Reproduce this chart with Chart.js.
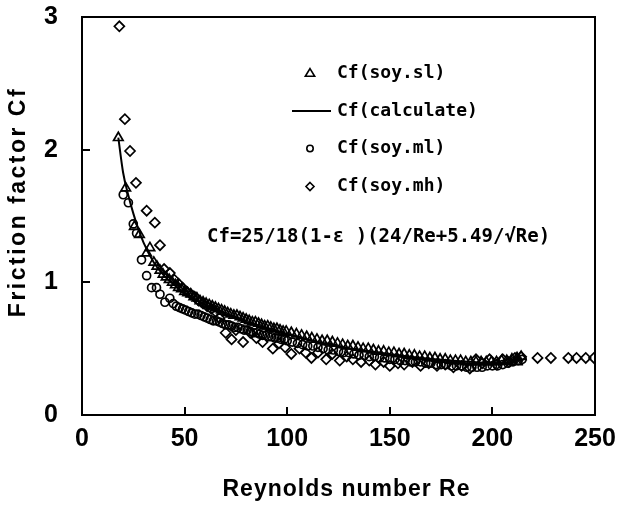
<!DOCTYPE html>
<html><head><meta charset="utf-8">
<script src="https://cdn.jsdelivr.net/npm/chart.js@4/dist/chart.umd.min.js"></script>
<style>html,body{margin:0;padding:0;background:#fff}#wrap{width:617px;height:507px}</style>
</head><body><div id="wrap"><canvas id="c" width="617" height="507"></canvas></div>
<script>
const seriesLabels = ["Cf(soy.sl)", "Cf(calculate)", "Cf(soy.ml)", "Cf(soy.mh)"];
const xTitle = "Reynolds number Re";
const yTitle = "Friction factor Cf";
const formulaText = "Cf=25/18(1-ε )(24/Re+5.49/√Re)";
const xTicks = [0, 50, 100, 150, 200, 250];
const yTicks = [0, 1, 2, 3];

const slRe = [17.7,21.3,25.5,28,31.5,33.1,35,36.5,38,39.5,41,42.5,44,45.5,47,48.5,50,51.5,53,54.5,56,57.5,59,60.5,62,63.5,65,66.5,68,69.5,71,72.5,74,75.5,77,78.5,80,81.5,83,84.5,86,87.5,89,90.5,92,93.5,95,96.5,98,99.5,102,104.5,107,109.5,112,114.5,117,119.5,122,124.5,127,129.5,132,134.5,137,139.5,142,144.5,147,149.5,152,154.5,157,159.5,162,164.5,167,169.5,172,174.5,177,179.5,182,184.5,187,189.5,192,194.5,197,199.5,202,204.5,207,209.5,212,214];
const slCf = [2.09,1.71,1.42,1.36,1.22,1.26,1.15,1.12,1.09,1.06,1.04,1.02,1.00,0.98,0.96,0.95,0.93,0.92,0.91,0.89,0.88,0.86,0.85,0.84,0.83,0.82,0.81,0.80,0.79,0.78,0.77,0.76,0.75,0.75,0.74,0.73,0.72,0.71,0.70,0.70,0.69,0.68,0.67,0.67,0.66,0.65,0.65,0.64,0.63,0.63,0.62,0.61,0.60,0.59,0.58,0.57,0.56,0.56,0.55,0.54,0.53,0.52,0.52,0.51,0.50,0.50,0.49,0.48,0.48,0.47,0.47,0.46,0.46,0.45,0.45,0.44,0.44,0.43,0.43,0.42,0.42,0.41,0.41,0.41,0.40,0.40,0.40,0.40,0.40,0.40,0.40,0.41,0.41,0.42,0.43,0.44];

const mlRe = [20.1,22.6,25,26.6,29,31.5,33.9,36.3,38,40.4,42.8,44.5,46,47.5,49,50.5,52,53.5,55,56.5,58,59.5,61,62.5,64,65.5,67,68.5,70,71.5,73,74.5,76,77.5,79,80.5,82,83.5,85,86.5,88,89.5,91,92.5,94,95.5,97,98.5,100,102.5,105,107.5,110,112.5,115,117.5,120,122.5,125,127.5,130,132.5,135,137.5,140,142.5,145,147.5,150,152.5,155,157.5,160,162.5,165,167.5,170,172.5,175,177.5,180,182.5,185,187.5,190,192.5,195,197.5,200,202.5,205,207.5,210,212.5,214.5];
const mlCf = [1.66,1.60,1.44,1.37,1.17,1.05,0.96,0.96,0.91,0.85,0.88,0.84,0.82,0.81,0.80,0.79,0.78,0.77,0.76,0.76,0.75,0.74,0.73,0.72,0.71,0.71,0.70,0.69,0.68,0.68,0.67,0.66,0.66,0.65,0.64,0.64,0.63,0.62,0.62,0.61,0.60,0.60,0.59,0.59,0.58,0.58,0.57,0.57,0.56,0.55,0.54,0.53,0.52,0.52,0.51,0.50,0.49,0.49,0.48,0.47,0.47,0.46,0.45,0.45,0.44,0.44,0.43,0.43,0.42,0.42,0.41,0.41,0.40,0.40,0.40,0.39,0.39,0.38,0.38,0.38,0.37,0.37,0.37,0.36,0.36,0.36,0.36,0.37,0.37,0.37,0.38,0.39,0.40,0.41,0.42];

const mhRe = [18.2,20.9,23.4,26.3,31.5,35.5,38,40,42.8,45,47,49,51,53,55,57,59,61,63,65,67,70,72.9,75,78.5,82,85,88,93,96,99,102,106,109,111.8,115,119,122,125.6,129,132,136,140,143,147,150,154,157,161,165,169,173,177,181,185,189,192,195,198.6,202,205,208,211,214,222,228.5,237,241,245.5,249.5];
const mhCf = [2.93,2.23,1.99,1.75,1.54,1.45,1.28,1.10,1.07,1.02,0.99,0.96,0.93,0.91,0.89,0.86,0.84,0.82,0.80,0.78,0.73,0.62,0.57,0.64,0.55,0.62,0.58,0.55,0.50,0.54,0.51,0.46,0.50,0.47,0.43,0.47,0.42,0.46,0.41,0.44,0.42,0.40,0.41,0.38,0.40,0.37,0.39,0.38,0.40,0.37,0.39,0.37,0.38,0.36,0.37,0.35,0.42,0.39,0.42,0.38,0.42,0.40,0.43,0.44,0.43,0.43,0.43,0.43,0.43,0.43];

const calcRe = [17.7,20,22.5,25,27.5,30,35,40,45,50,60,70,80,90,100,120,140,160,180,200,215];
const calcCf = [2.09,1.83,1.66,1.52,1.40,1.30,1.15,1.05,0.98,0.92,0.83,0.76,0.70,0.65,0.61,0.53,0.48,0.44,0.41,0.39,0.38];

const pts = (xs, ys) => xs.map((v, i) => ({x: v, y: ys[i]}));
const markStyles = ['triangle', 'line', 'circle', 'rectRot'];
const markRadius = [5.5, 0, 4, 5];
const monoFont = '"DejaVu Sans Mono", "Liberation Mono", monospace';
const sansFont = '"Liberation Sans", Arial, sans-serif';

const decor = {
  id: 'decor',
  afterDraw(chart) {
    const {ctx, chartArea: a, scales: {x, y}} = chart;
    ctx.save();
    ctx.strokeStyle = '#000';
    ctx.fillStyle = '#000';
    ctx.lineWidth = 2;
    ctx.strokeRect(a.left, a.top, a.right - a.left, a.bottom - a.top);
    ctx.beginPath();
    xTicks.forEach(v => {
      if (v <= x.min || v >= x.max) return;
      const px = Math.round(x.getPixelForValue(v));
      ctx.moveTo(px, a.bottom); ctx.lineTo(px, a.bottom - 8);
    });
    yTicks.forEach(v => {
      if (v <= y.min || v >= y.max) return;
      const py = Math.round(y.getPixelForValue(v));
      ctx.moveTo(a.left, py); ctx.lineTo(a.left + 8, py);
    });
    ctx.stroke();

    // legend
    const rowY = [73, 111, 148.5, 186.5];
    const mx = 310, tx = 337;
    ctx.font = 'bold 18px ' + monoFont;
    ctx.textBaseline = 'middle';
    ctx.textAlign = 'left';
    seriesLabels.forEach((lab, i) => {
      const yy = rowY[i];
      ctx.lineWidth = 1.6;
      ctx.beginPath();
      const st = markStyles[i];
      const r = markRadius[i];
      if (st === 'triangle') {
        ctx.moveTo(mx, yy - r * 0.8); ctx.lineTo(mx + r * 0.85, yy + r * 0.6); ctx.lineTo(mx - r * 0.85, yy + r * 0.6); ctx.closePath();
      } else if (st === 'circle') {
        ctx.arc(mx, yy, 3.2, 0, Math.PI * 2);
      } else if (st === 'rectRot') {
        ctx.moveTo(mx, yy - 4); ctx.lineTo(mx + 4, yy); ctx.lineTo(mx, yy + 4); ctx.lineTo(mx - 4, yy); ctx.closePath();
      } else {
        ctx.lineWidth = 2;
        ctx.moveTo(292, yy); ctx.lineTo(331, yy);
      }
      ctx.stroke();
      ctx.fillText(lab, tx, yy);
    });

    // formula
    ctx.font = 'bold 19px ' + monoFont;
    ctx.fillText(formulaText, 207, 237);

    // axis titles
    ctx.font = 'bold 23px ' + sansFont;
    ctx.textAlign = 'center';
    ctx.letterSpacing = '1px';
    ctx.fillText(xTitle, (a.left + a.right) / 2 + 8, 490);
    ctx.letterSpacing = '2.5px';
    ctx.save();
    ctx.translate(19, (a.top + a.bottom) / 2 - 14);
    ctx.rotate(-Math.PI / 2);
    ctx.fillText(yTitle, 0, 0);
    ctx.restore();
    ctx.letterSpacing = '0px';
    ctx.restore();
  }
};

const tickFont = {family: sansFont, size: 25, weight: 'bold'};

new Chart(document.getElementById('c'), {
  type: 'scatter',
  data: {
    datasets: [
      {label: seriesLabels[0], data: pts(slRe, slCf), pointStyle: 'triangle', pointRadius: markRadius[0], borderColor: '#000', backgroundColor: 'rgba(0,0,0,0)', borderWidth: 1.7, showLine: false},
      {label: seriesLabels[1], data: pts(calcRe, calcCf), pointRadius: 0, borderColor: '#000', borderWidth: 2, showLine: true, cubicInterpolationMode: 'monotone', order: -1},
      {label: seriesLabels[2], data: pts(mlRe, mlCf), pointStyle: 'circle', pointRadius: markRadius[2], borderColor: '#000', backgroundColor: 'rgba(0,0,0,0)', borderWidth: 1.7, showLine: false},
      {label: seriesLabels[3], data: pts(mhRe, mhCf), pointStyle: 'rectRot', pointRadius: markRadius[3], borderColor: '#000', backgroundColor: 'rgba(0,0,0,0)', borderWidth: 1.7, showLine: false}
    ]
  },
  options: {
    responsive: false,
    devicePixelRatio: 1,
    animation: false,
    layout: {padding: {left: 0, top: 17, right: 22, bottom: 0}},
    plugins: {legend: {display: false}, tooltip: {enabled: false}},
    scales: {
      x: {
        type: 'linear', min: 0, max: 250,
        afterBuildTicks: s => { s.ticks = xTicks.map(v => ({value: v})); },
        afterFit: s => { s.height = 92; s.paddingLeft = 0; s.paddingRight = 0; },
        grid: {display: false, drawTicks: false},
        border: {display: false},
        ticks: {font: tickFont, color: '#000', padding: 9, maxRotation: 0, autoSkip: false}
      },
      y: {
        type: 'linear', min: 0, max: 3,
        afterBuildTicks: s => { s.ticks = yTicks.map(v => ({value: v})); },
        afterFit: s => { s.width = 82; s.paddingTop = 0; s.paddingBottom = 0; },
        grid: {display: false, drawTicks: false},
        border: {display: false},
        ticks: {font: tickFont, color: '#000', padding: 24, autoSkip: false}
      }
    }
  },
  plugins: [decor]
});
</script>
</body></html>
